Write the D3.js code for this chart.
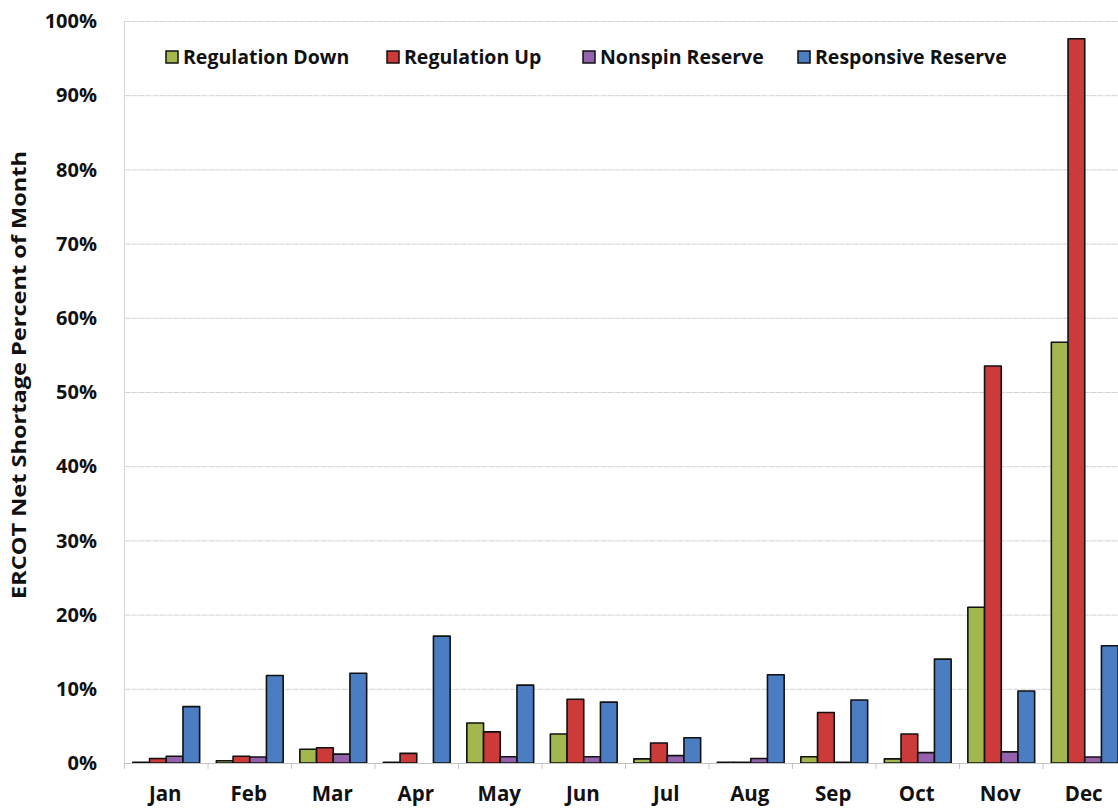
<!DOCTYPE html>
<html>
<head>
<meta charset="utf-8">
<script src="https://cdn.jsdelivr.net/npm/d3@7/dist/d3.min.js"></script>
<style>
  html, body { margin: 0; padding: 0; background: #fff; }
  svg { display: block; }
  text { font-family: "Open Sans", Lato, sans-serif; font-weight: bold; fill: #111; }
</style>
</head>
<body>
<svg id="chart" width="1118" height="809"></svg>
<script>
// Monthly ERCOT net shortage, percent of month, by ancillary service
const months = ["Jan","Feb","Mar","Apr","May","Jun","Jul","Aug","Sep","Oct","Nov","Dec"];
const seriesNames = ["Regulation Down","Regulation Up","Nonspin Reserve","Responsive Reserve"];
const regulationDown    = [0.1, 0.3, 1.85, 0.1, 5.4, 3.9, 0.55, 0.1, 0.85, 0.55, 21.0, 56.7];
const regulationUp      = [0.6, 0.9, 2.05, 1.3, 4.2, 8.6, 2.7, 0.1, 6.8, 3.9, 53.5, 97.6];
const nonspinReserve    = [0.9, 0.8, 1.2, 0.0, 0.85, 0.85, 1.0, 0.6, 0.1, 1.4, 1.5, 0.8];
const responsiveReserve = [7.6, 11.8, 12.1, 17.1, 10.5, 8.2, 3.4, 11.9, 8.5, 14.0, 9.7, 15.8];
const yTicks = [0,10,20,30,40,50,60,70,80,90,100];
const colors = ["#a2b84f", "#cc3a3a", "#9462ad", "#4b7dc3"];

const allSeries = [regulationDown, regulationUp, nonspinReserve, responsiveReserve];
const svg = d3.select("#chart");

const left = 124.5, bandW = 83.5;
const x = d3.scaleBand().domain(months).range([left, left + bandW * months.length]).paddingInner(0).paddingOuter(0);
const xs = d3.scaleBand().domain(seriesNames).range([0, bandW]).paddingInner(0).paddingOuter(0.5);
const y = d3.scaleLinear().domain([0, 100]).range([763, 21]);

// horizontal gridlines
svg.append("g").selectAll("line").data(yTicks.slice(1)).join("line")
  .attr("x1", left).attr("x2", 1118)
  .attr("y1", d => y(d) + 0.5).attr("y2", d => y(d) + 0.5)
  .attr("stroke", "#d2d2d2").attr("stroke-width", 1)
  .attr("stroke-dasharray", "6,1");

// left axis line
svg.append("line").attr("x1", left).attr("x2", left).attr("y1", y(100)).attr("y2", y(0))
  .attr("stroke", "#d6d6d6").attr("stroke-width", 1);

// y tick labels
svg.append("g").selectAll("text").data(yTicks).join("text")
  .attr("x", 97).attr("y", d => y(d)).attr("dy", "0.36em")
  .attr("text-anchor", "end").attr("font-size", 20)
  .text(d => d + "%");

// bars
const groups = svg.append("g").selectAll("g").data(months).join("g")
  .attr("transform", d => `translate(${x(d)},0)`);
groups.selectAll("rect").data((m, i) => seriesNames.map((s, k) => ({s, k, v: allSeries[k][i]}))).join("rect")
  .attr("x", d => xs(d.s))
  .attr("width", xs.bandwidth())
  .attr("y", d => y(d.v))
  .attr("height", d => y(0) - y(d.v))
  .attr("fill", d => colors[d.k])
  .attr("stroke", "#111").attr("stroke-width", 1.6)
  .attr("stroke-linejoin", "round");

// x axis line with category ticks
svg.append("line").attr("x1", left).attr("x2", 1118).attr("y1", y(0) + 0.5).attr("y2", y(0) + 0.5)
  .attr("stroke", "#c4c4c4").attr("stroke-width", 1);
svg.append("g").selectAll("line").data(d3.range(months.length + 1)).join("line")
  .attr("x1", i => left + i * bandW).attr("x2", i => left + i * bandW)
  .attr("y1", y(0)).attr("y2", y(0) + 6)
  .attr("stroke", "#c4c4c4").attr("stroke-width", 1);

// month labels
svg.append("g").selectAll("text").data(months).join("text")
  .attr("x", d => x(d) + bandW / 2 - 1).attr("y", 801)
  .attr("text-anchor", "middle").attr("font-size", 20.5)
  .text(d => d);

// y axis title
svg.append("text")
  .attr("transform", "translate(26,375) rotate(-90)")
  .attr("text-anchor", "middle").attr("font-size", 19)
  .attr("textLength", 448).attr("lengthAdjust", "spacingAndGlyphs")
  .text("ERCOT Net Shortage Percent of Month");

// legend
const legendX = [166, 387, 583, 798];
const lg = svg.append("g").selectAll("g").data(seriesNames).join("g")
  .attr("transform", (d, i) => `translate(${legendX[i]},57)`);
lg.append("rect").attr("x", 0).attr("y", -6).attr("width", 12).attr("height", 12)
  .attr("fill", (d, i) => colors[i]).attr("stroke", "#111").attr("stroke-width", 1.5);
lg.append("text").attr("x", 17).attr("y", 0).attr("dy", "0.36em")
  .attr("font-size", 19.5).text(d => d);
</script>
</body>
</html>
